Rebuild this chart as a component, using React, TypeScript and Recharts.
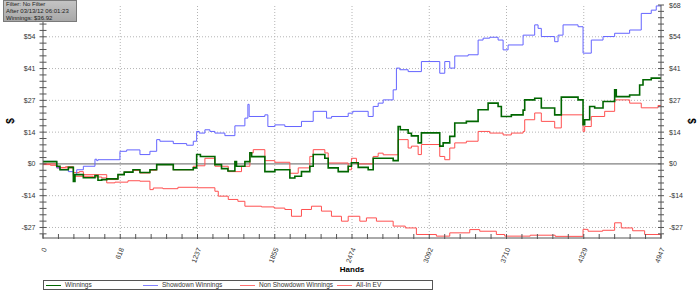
import React from 'react';
import { LineChart, Line, XAxis, YAxis, ReferenceLine } from 'recharts';

type Pt = [number, number];

// [hand, dollars] step points
const winnings: Pt[] = [
    [0, 1.0], [110, -1.0], [136, -2.5], [203, -1.5], [243, -7.5], [256, -4.6], [323, -5.9], [416, -5.0],
    [440, -7.0], [470, -6.7], [510, -6.4], [600, -4.6], [650, -3.5], [720, -2.5], [776, -3.7], [856, -2.5],
    [910, -0.3], [1043, -2.5], [1203, -1.7], [1230, 4.0], [1260, 3.2], [1376, -0.3], [1429, -2.0], [1480, -3.0],
    [1536, 1.0], [1549, -1.0], [1616, 1.0], [1656, 4.8], [1670, 3.1], [1776, -3.3], [1856, -2.5], [1976, -6.0],
    [2016, -5.3], [2069, -3.3], [2136, -1.0], [2163, 4.0], [2256, 2.4], [2283, -1.7], [2363, -3.3], [2443, -1.0],
    [2469, 0.5], [2523, -1.5], [2603, -2.5], [2643, 2.4], [2803, 1.4], [2843, 16.0], [2860, 14.6], [2923, 13.1],
    [2949, 12.0], [3003, 9.0], [3029, 13.3], [3176, 7.6], [3203, 9.0], [3256, 11.8], [3296, 17.5], [3389, 18.2],
    [3483, 23.2], [3563, 26.0], [3643, 24.6], [3669, 20.3], [3749, 21.0], [3843, 23.0], [3856, 27.4], [3936, 28.1],
    [3989, 23.9], [4096, 21.0], [4149, 28.6], [4283, 27.4], [4323, 16.8], [4336, 18.9], [4376, 24.6], [4416, 23.9],
    [4483, 26.7], [4576, 31.7], [4589, 28.8], [4696, 29.5], [4776, 33.8], [4803, 36.0], [4869, 36.7], [4947, 36.92],
];

const showdown: Pt[] = [
    [0, 1.1], [110, -1.7], [136, -2.5], [203, -3.3], [243, -4.6], [270, -2.5], [323, -1.0], [416, 2.0],
    [430, 1.4], [440, 1.8], [616, 5.4], [670, 6.0], [776, 4.0], [856, 5.4], [910, 10.4], [936, 9.7],
    [1043, 8.7], [1150, 8.0], [1203, 9.7], [1230, 13.9], [1250, 13.2], [1296, 14.6], [1336, 13.9], [1376, 13.2],
    [1456, 12.1], [1536, 16.3], [1616, 19.6], [1640, 25.5], [1650, 20.3], [1776, 21.0], [1800, 16.0], [1856, 16.7],
    [1936, 16.0], [2069, 18.2], [2163, 22.5], [2270, 19.6], [2310, 20.3], [2443, 21.7], [2480, 22.5], [2603, 20.3],
    [2643, 24.6], [2683, 26.0], [2723, 27.4], [2803, 31.7], [2829, 41.0], [2856, 40.3], [2923, 39.5], [3029, 43.8],
    [3176, 38.8], [3216, 43.8], [3256, 41.0], [3296, 46.2], [3403, 46.7], [3483, 53.0], [3523, 53.8], [3576, 54.2],
    [3643, 53.0], [3683, 48.8], [3723, 50.9], [3843, 55.1], [3936, 59.5], [3963, 58.0], [3989, 54.5], [4096, 52.3],
    [4123, 55.1], [4163, 59.5], [4283, 58.7], [4323, 47.4], [4389, 53.0], [4483, 54.5], [4576, 55.9], [4696, 57.3],
    [4789, 64.4], [4869, 65.8], [4909, 67.6], [4947, 67.6],
];

const nonShowdown: Pt[] = [
    [0, -0.3], [60, -0.6], [110, -1.5], [180, -1.2], [243, -3.7], [290, -3.3], [323, -5.3], [400, -5.6],
    [470, -6.0], [510, -8.1], [576, -7.8], [680, -7.2], [776, -7.4], [856, -11.0], [883, -10.3], [960, -10.6],
    [1080, -10.0], [1230, -10.2], [1376, -11.7], [1403, -13.8], [1483, -15.2], [1560, -16.0], [1616, -18.1],
    [1749, -18.4], [1850, -18.9], [1936, -19.5], [1989, -22.4], [2069, -19.5], [2149, -18.1], [2229, -20.2],
    [2309, -22.4], [2389, -24.5], [2443, -22.4], [2536, -24.5], [2589, -23.1], [2669, -24.5], [2803, -26.6],
    [2900, -27.4], [2989, -30.2], [3149, -30.9], [3256, -29.5], [3416, -28.1], [3496, -28.8], [3629, -30.2],
    [3696, -30.9], [3900, -30.5], [4100, -31.0], [4323, -28.0], [4363, -28.8], [4480, -28.4], [4576, -25.2],
    [4629, -27.4], [4720, -28.6], [4816, -30.2], [4947, -30.7],
];

const allInEv: Pt[] = [
    [0, 0.0], [110, -1.7], [243, -5.3], [323, -4.6], [510, -6.7], [600, -4.5], [650, -3.5], [720, -2.8],
    [776, -3.9], [856, -2.7], [910, -0.3], [1043, -2.5], [1203, -1.0], [1230, -0.8], [1296, 2.4], [1376, -1.0],
    [1483, -3.3], [1589, -1.0], [1656, 4.7], [1683, 6.1], [1776, 1.4], [1856, 0.7], [1976, -4.0], [2043, -1.7],
    [2136, 3.2], [2163, 6.1], [2256, 4.7], [2283, 0.4], [2443, -2.5], [2469, 2.4], [2509, 0.0], [2643, 3.2],
    [2683, 4.6], [2723, 3.9], [2843, 10.4], [2923, 6.8], [2949, 7.6], [3003, 4.0], [3029, 8.3], [3176, 3.2],
    [3216, 1.8], [3256, 6.8], [3296, 9.0], [3389, 9.7], [3483, 13.9], [3576, 13.2], [3683, 12.4], [3749, 13.2],
    [3843, 13.9], [3856, 18.9], [3936, 21.8], [3989, 18.2], [4096, 15.4], [4149, 21.0], [4323, 13.9], [4336, 16.0],
    [4389, 20.3], [4496, 22.5], [4576, 27.4], [4696, 26.0], [4789, 24.0], [4923, 25.0], [4947, 25.0],
];

const seriesNames = ['Winnings', 'Showdown Winnings', 'Non Showdown Winnings', 'All-In EV'];
const seriesColors = ['#006600', '#6464ff', '#ff5050', '#ff5050'];
const legendColors = ['#006600', '#8080ff', '#ff7070', '#ff7070'];

const handTicks = [0, 618.375, 1236.75, 1855.125, 2473.5, 3091.875, 3710.25, 4328.625, 4947];
const handLabels = ['0', '618', '1237', '1855', '2474', '3092', '3710', '4329', '4947'];
const dollarTicks = [-27.2, -13.6, 0, 13.6, 27.2, 40.8, 54.4, 68];
const dollarLabels = ['-$27', '-$14', '$0', '$14', '$27', '$41', '$54', '$68'];

const infoLines = ['Filter: No Filter', 'After 03/13/12 06:01:23', 'Winnings: $36.92'];

const FONT = '"Liberation Sans", Arial, sans-serif';
const AXIS = '#555';

// major ticks split into 5 minor steps
const withMinor = (major: number[]) => {
    const out: number[] = [];
    for (let i = 0; i < major.length - 1; i++) {
        const step = (major[i + 1] - major[i]) / 5;
        for (let k = 0; k < 5; k++) out.push(major[i] + step * k);
    }
    out.push(major[major.length - 1]);
    return out;
};
const xTicksAll = withMinor(handTicks);
const yTicksAll = [-29.92, ...withMinor(dollarTicks)];

const majorIndex = (arr: number[], v: number) => arr.findIndex(m => Math.abs(m - v) < 1e-6);

const BottomTick = (p: any) => {
    const { x, y, payload } = p;
    const i = majorIndex(handTicks, payload.value);
    return (
        <g>
            <line x1={x} x2={x} y1={y - 4} y2={y + 1} stroke={AXIS} />
            {i >= 0 && (
                <text x={x + 4} y={y + 11} transform={`rotate(-68 ${x + 4} ${y + 11})`} textAnchor="end" fontSize={7} fill="#333" fontFamily={FONT}>
                    {handLabels[i]}
                </text>
            )}
        </g>
    );
};

const TopTick = (p: any) => {
    const { x, y } = p;
    return <line x1={x} x2={x} y1={y} y2={y + 4} stroke={AXIS} />;
};

const LeftTick = (p: any) => {
    const { x, y, payload } = p;
    const i = majorIndex(dollarTicks, payload.value);
    // the top label sits under the info box in the original, so it is not drawn
    const showLabel = i >= 0 && i < dollarTicks.length - 1;
    return (
        <g>
            <line x1={x - 3.5} x2={x + 3.5} y1={y} y2={y} stroke={AXIS} />
            {showLabel && (
                <text x={x - 7.5} y={y + 2.5} textAnchor="end" fontSize={7} fill="#333" fontFamily={FONT}>{dollarLabels[i]}</text>
            )}
        </g>
    );
};

const RightTick = (p: any) => {
    const { x, y, payload } = p;
    const i = majorIndex(dollarTicks, payload.value);
    return (
        <g>
            <line x1={x - 3} x2={x + 3} y1={y} y2={y} stroke={AXIS} />
            {i >= 0 && (
                <text x={x + 8} y={y + 2.5} textAnchor="start" fontSize={7} fill="#333" fontFamily={FONT}>{dollarLabels[i]}</text>
            )}
        </g>
    );
};

const toRows = (pts: Pt[]) => pts.map(([h, v]) => ({ h, v }));

const App: React.FC = () => {
    const series = [winnings, showdown, nonShowdown, allInEv];
    const drawOrder = [3, 2, 1, 0];

    return (
        <div style={{ position: 'relative', width: 700, height: 293, fontFamily: FONT, background: '#fff', overflow: 'hidden' }}>
            <style>{'body{margin:0}'}</style>
            <LineChart width={700} height={293} margin={{ top: 5, right: 0, bottom: 0, left: 0 }}>
                <XAxis xAxisId="b" type="number" dataKey="h" domain={[0, 4947]} allowDataOverflow ticks={xTicksAll} interval={0}
                    tick={BottomTick} tickLine={false} tickSize={0} tickMargin={0} height={55} axisLine={{ stroke: AXIS }} />
                <XAxis xAxisId="t" orientation="top" type="number" dataKey="h" domain={[0, 4947]} allowDataOverflow ticks={xTicksAll} interval={0}
                    tick={TopTick} tickLine={false} tickSize={0} tickMargin={0} height={0} axisLine={{ stroke: AXIS }} />
                <YAxis yAxisId="l" type="number" domain={[-31.7, 68]} allowDataOverflow ticks={yTicksAll} interval={0}
                    tick={LeftTick} tickLine={false} tickSize={0} tickMargin={0} width={43} axisLine={{ stroke: AXIS }} />
                <YAxis yAxisId="r" orientation="right" type="number" domain={[-31.7, 68]} allowDataOverflow ticks={yTicksAll} interval={0}
                    tick={RightTick} tickLine={false} tickSize={0} tickMargin={0} width={39} axisLine={{ stroke: AXIS }} />

                {dollarTicks.filter(v => v !== 0 && v !== 68).map(v => (
                    <ReferenceLine key={`gy${v}`} xAxisId="b" yAxisId="l" y={v} stroke="#b4b4b4" strokeDasharray="1 2" />
                ))}
                {handTicks.slice(1, -1).map(v => (
                    <ReferenceLine key={`gx${v}`} xAxisId="b" yAxisId="l" x={v} stroke="#b4b4b4" strokeDasharray="1 2" />
                ))}
                <ReferenceLine xAxisId="b" yAxisId="l" y={0} stroke="#606060" />

                {drawOrder.map(i => (
                    <Line key={seriesNames[i]} xAxisId="b" yAxisId="l" data={toRows(series[i])} dataKey="v" name={seriesNames[i]}
                        type="stepAfter" stroke={seriesColors[i]} strokeWidth={i === 0 ? 1.6 : 1} dot={false} activeDot={false}
                        isAnimationActive={false} />
                ))}
            </LineChart>

            {/* info box */}
            <div style={{ position: 'absolute', left: 3, top: 0, width: 74, height: 22, background: 'linear-gradient(#c4c4c4, #a8a8a8)', border: '1px solid #7a7a7a', fontSize: 6, lineHeight: '7px', color: '#222', paddingLeft: 2, boxSizing: 'border-box', whiteSpace: 'nowrap' }}>
                {infoLines.map(t => <div key={t}>{t}</div>)}
            </div>

            {/* axis titles */}
            <div style={{ position: 'absolute', left: 6, top: 115, width: 10, height: 12, fontSize: 10, fontWeight: 'bold', textAlign: 'center', lineHeight: '12px', transform: 'rotate(-90deg)' }}>$</div>
            <div style={{ position: 'absolute', left: 686, top: 115, width: 10, height: 12, fontSize: 10, fontWeight: 'bold', textAlign: 'center', lineHeight: '12px', transform: 'rotate(90deg)' }}>$</div>
            <div style={{ position: 'absolute', left: 302, top: 265, width: 100, textAlign: 'center', fontSize: 8, fontWeight: 'bold', lineHeight: '9px' }}>Hands</div>

            {/* legend */}
            <div style={{ position: 'absolute', left: 43, top: 280, width: 390, height: 10, border: '1px solid #555', boxSizing: 'border-box', display: 'flex' }}>
                {seriesNames.map((n, i) => (
                    <div key={n} style={{ position: 'relative', width: 97, height: 8 }}>
                        <div style={{ position: 'absolute', left: 2, top: 3.5, width: 15, height: 1.3, background: legendColors[i] }} />
                        <div style={{ position: 'absolute', left: 21, top: 0, fontSize: 6.5, lineHeight: '8px', color: '#333', whiteSpace: 'nowrap' }}>{n}</div>
                    </div>
                ))}
            </div>
        </div>
    );
};

export default App;
